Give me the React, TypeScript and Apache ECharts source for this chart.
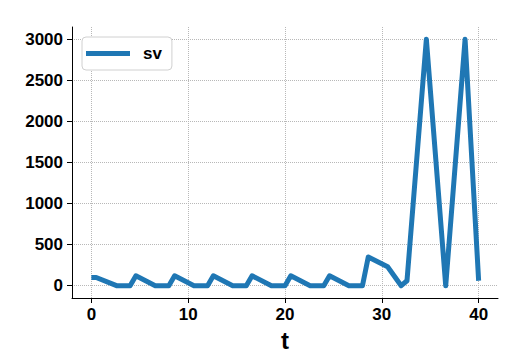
import React, { useEffect, useRef } from "react";
import * as echarts from "echarts";

const tValues = [0, 0.5, 2.6, 4.0, 4.6, 6.6, 8.0, 8.6, 10.6, 12.0, 12.6, 14.6, 16.0, 16.6, 18.6, 20.0, 20.6, 22.6, 24.0, 24.6, 26.6, 28.0, 28.6, 30.6, 32.0, 32.6, 34.6, 36.6, 38.6, 40.0];
const svValues = [100, 100, 0, 0, 120, 0, 0, 120, 0, 0, 120, 0, 0, 120, 0, 0, 120, 0, 0, 120, 0, 0, 350, 230, 0, 60, 3000, 0, 3000, 60];
const xTicks = [0, 10, 20, 30, 40];
const yTicks = [0, 500, 1000, 1500, 2000, 2500, 3000];
const seriesName = "sv";
const xName = "t";

export default function App() {
  const ref = useRef<HTMLDivElement>(null);
  useEffect(() => {
    if (!ref.current) return;
    const chart = echarts.init(ref.current, undefined, { renderer: "svg" });
    const font = "'Liberation Sans', Arial, sans-serif";
    const data = tValues.map((t, i) => [t, svValues[i]]);
    chart.setOption({
      animation: false,
      grid: { left: 72, right: 15, top: 27, bottom: 54, containLabel: false },
      legend: {
        left: 82,
        top: 37,
        orient: "horizontal",
        data: [seriesName],
        icon: "rect",
        itemWidth: 44,
        itemHeight: 5,
        padding: [8, 10, 8, 4],
        backgroundColor: "#fff",
        borderColor: "#d0d0d0",
        borderWidth: 1,
        borderRadius: 4,
        textStyle: { fontFamily: font, fontWeight: "bold", fontSize: 17, color: "#000", padding: [0, 0, 0, 8] },
      },
      xAxis: {
        type: "value",
        min: -2,
        max: 42,
        name: xName,
        nameLocation: "middle",
        nameGap: 30,
        nameTextStyle: { fontFamily: font, fontWeight: "bold", fontSize: 24, color: "#000" },
        axisLine: { show: true, onZero: false, lineStyle: { color: "#000", width: 1 } },
        axisTick: { show: true, length: 5, lineStyle: { color: "#000" }, customValues: xTicks },
        axisLabel: { customValues: xTicks, formatter: (v: number) => String(v), fontFamily: font, fontWeight: "bold", fontSize: 17, color: "#000", margin: 8 },
        splitLine: { show: true, lineStyle: { color: "#b8b8b8", type: "dotted", width: 1 } },
      },
      yAxis: {
        type: "value",
        min: -150,
        max: 3150,
        axisLine: { show: true, onZero: false, lineStyle: { color: "#000", width: 1 } },
        axisTick: { show: true, length: 5, lineStyle: { color: "#000" }, customValues: yTicks },
        axisLabel: { customValues: yTicks, formatter: (v: number) => String(v), fontFamily: font, fontWeight: "bold", fontSize: 17, color: "#000", margin: 9 },
        splitLine: { show: true, lineStyle: { color: "#b8b8b8", type: "dotted", width: 1 } },
      },
      series: [
        {
          name: seriesName,
          type: "line",
          data,
          showSymbol: false,
          symbol: "none",
          color: "#1f77b4",
          lineStyle: { color: "#1f77b4", width: 5, join: "round" },
        },
      ],
    });
    return () => chart.dispose();
  }, []);
  return <div ref={ref} style={{ width: 513, height: 357, position: "absolute", left: 0, top: 0 }} />;
}
